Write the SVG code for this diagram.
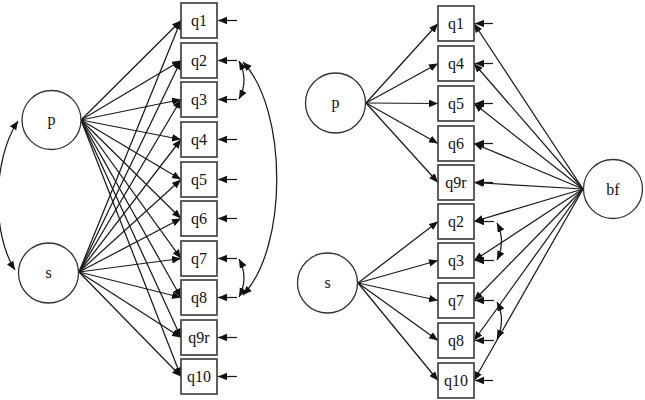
<svg xmlns="http://www.w3.org/2000/svg" width="645" height="400" viewBox="0 0 645 400">
  <defs>
    <style>
      .box { fill: #fff; stroke: #444; stroke-width: 1.7; }
      .lat { fill: #fff; stroke: #333; stroke-width: 1.3; }
      .lbl { font-family: "Liberation Serif", "Times New Roman", serif; font-size: 16px; fill: #111; text-anchor: middle; dominant-baseline: central; }
      .edge { fill: none; stroke: #1a1a1a; stroke-width: 1.25; marker-end: url(#ah); }
      .cov { fill: none; stroke: #1a1a1a; stroke-width: 1.25; marker-start: url(#ah); marker-end: url(#ah); }
    </style>
    <marker id="ah" markerUnits="userSpaceOnUse" markerWidth="10" markerHeight="8" refX="9" refY="3.75" orient="auto-start-reverse">
      <path d="M0,0 L9,3.75 L0,7.5 z" fill="#111"/>
    </marker>
  </defs>

  <!-- connectors -->
  <g id="connectors">
    <!-- left model: p loadings -->
    <path class="edge" d="M81,120 L181,20.5"/>
    <path class="edge" d="M81,120 L181,60.5"/>
    <path class="edge" d="M81,120 L181,99.5"/>
    <path class="edge" d="M81,120 L181,139.5"/>
    <path class="edge" d="M81,120 L181,179.5"/>
    <path class="edge" d="M81,120 L181,218.5"/>
    <path class="edge" d="M81,120 L181,258.5"/>
    <path class="edge" d="M81,120 L181,297.5"/>
    <path class="edge" d="M81,120 L181,337.5"/>
    <path class="edge" d="M81,120 L181,376.5"/>
    <!-- left model: s loadings -->
    <path class="edge" d="M79,272 L181,20.5"/>
    <path class="edge" d="M79,272 L181,60.5"/>
    <path class="edge" d="M79,272 L181,99.5"/>
    <path class="edge" d="M79,272 L181,139.5"/>
    <path class="edge" d="M79,272 L181,179.5"/>
    <path class="edge" d="M79,272 L181,218.5"/>
    <path class="edge" d="M79,272 L181,258.5"/>
    <path class="edge" d="M79,272 L181,297.5"/>
    <path class="edge" d="M79,272 L181,337.5"/>
    <path class="edge" d="M79,272 L181,376.5"/>
    <!-- left model: residuals -->
    <path class="edge" d="M237,20.5 L218,20.5"/>
    <path class="edge" d="M237,60.5 L218,60.5"/>
    <path class="edge" d="M237,99.5 L218,99.5"/>
    <path class="edge" d="M237,139.5 L218,139.5"/>
    <path class="edge" d="M237,179.5 L218,179.5"/>
    <path class="edge" d="M237,218.5 L218,218.5"/>
    <path class="edge" d="M237,258.5 L218,258.5"/>
    <path class="edge" d="M237,297.5 L218,297.5"/>
    <path class="edge" d="M237,337.5 L218,337.5"/>
    <path class="edge" d="M237,376.5 L218,376.5"/>
    <!-- left model: covariances -->
    <path class="cov" d="M18,121 C-8,160 -8,235 15,270"/>
    <path class="cov" d="M239,61 Q249,80 239,99"/>
    <path class="cov" d="M239,259 Q249,278 239,297"/>
    <path class="cov" d="M243,62 C288,110 288,248 243,295"/>

    <!-- right model: p loadings -->
    <path class="edge" d="M366,103 L438,23.5"/>
    <path class="edge" d="M366,103 L438,63.5"/>
    <path class="edge" d="M366,103 L438,103.5"/>
    <path class="edge" d="M366,103 L438,143.5"/>
    <path class="edge" d="M366,103 L438,182.5"/>
    <!-- right model: s loadings -->
    <path class="edge" d="M358,283 L438,221.5"/>
    <path class="edge" d="M358,283 L438,260.5"/>
    <path class="edge" d="M358,283 L438,300.5"/>
    <path class="edge" d="M358,283 L438,340.5"/>
    <path class="edge" d="M358,283 L438,380.5"/>
    <!-- right model: bf loadings -->
    <path class="edge" d="M583,189 L474,23.5"/>
    <path class="edge" d="M583,189 L474,63.5"/>
    <path class="edge" d="M583,189 L474,103.5"/>
    <path class="edge" d="M583,189 L474,143.5"/>
    <path class="edge" d="M583,189 L474,182.5"/>
    <path class="edge" d="M583,189 L474,221.5"/>
    <path class="edge" d="M583,189 L474,260.5"/>
    <path class="edge" d="M583,189 L474,300.5"/>
    <path class="edge" d="M583,189 L474,340.5"/>
    <path class="edge" d="M583,189 L474,380.5"/>
    <!-- right model: residuals -->
    <path class="edge" d="M493,23.5 L475,23.5"/>
    <path class="edge" d="M493,63.5 L475,63.5"/>
    <path class="edge" d="M493,103.5 L475,103.5"/>
    <path class="edge" d="M493,143.5 L475,143.5"/>
    <path class="edge" d="M493,182.5 L475,182.5"/>
    <path class="edge" d="M494,221.5 L475,221.5"/>
    <path class="edge" d="M494,260.5 L475,260.5"/>
    <path class="edge" d="M494,300.5 L475,300.5"/>
    <path class="edge" d="M494,340.5 L475,340.5"/>
    <path class="edge" d="M493,380.5 L475,380.5"/>
    <!-- right model: covariances -->
    <path class="cov" d="M497,223 Q506,241 497,260"/>
    <path class="cov" d="M497,302 Q506,320 497,339"/>
  </g>

  <!-- left model nodes -->
  <g id="L_p"><circle class="lat" cx="51.5" cy="120" r="29.5"/><text class="lbl" x="51.5" y="119">p</text></g>
  <g id="L_s"><circle class="lat" cx="48.5" cy="273" r="30"/><text class="lbl" x="48.5" y="272">s</text></g>
  <g id="L_q1"><rect class="box" x="181" y="3" width="36" height="35"/><text class="lbl" x="199" y="20.5">q1</text></g>
  <g id="L_q2"><rect class="box" x="181" y="43" width="36" height="35"/><text class="lbl" x="199" y="60.5">q2</text></g>
  <g id="L_q3"><rect class="box" x="181" y="82" width="36" height="35"/><text class="lbl" x="199" y="99.5">q3</text></g>
  <g id="L_q4"><rect class="box" x="181" y="122" width="36" height="35"/><text class="lbl" x="199" y="139.5">q4</text></g>
  <g id="L_q5"><rect class="box" x="181" y="162" width="36" height="35"/><text class="lbl" x="199" y="179.5">q5</text></g>
  <g id="L_q6"><rect class="box" x="181" y="201" width="36" height="35"/><text class="lbl" x="199" y="218.5">q6</text></g>
  <g id="L_q7"><rect class="box" x="181" y="241" width="36" height="35"/><text class="lbl" x="199" y="258.5">q7</text></g>
  <g id="L_q8"><rect class="box" x="181" y="280" width="36" height="35"/><text class="lbl" x="199" y="297.5">q8</text></g>
  <g id="L_q9r"><rect class="box" x="181" y="320" width="36" height="35"/><text class="lbl" x="199" y="337.5">q9r</text></g>
  <g id="L_q10"><rect class="box" x="181" y="359" width="36" height="35"/><text class="lbl" x="199" y="376.5">q10</text></g>

  <!-- right model nodes -->
  <g id="R_p"><circle class="lat" cx="335.5" cy="103" r="30"/><text class="lbl" x="335.5" y="102">p</text></g>
  <g id="R_s"><circle class="lat" cx="327.5" cy="283" r="30"/><text class="lbl" x="327.5" y="282">s</text></g>
  <g id="R_bf"><circle class="lat" cx="613" cy="189" r="29.5"/><text class="lbl" x="613" y="189">bf</text></g>
  <g id="R_q1"><rect class="box" x="438" y="6" width="36" height="35"/><text class="lbl" x="456" y="23.5">q1</text></g>
  <g id="R_q4"><rect class="box" x="438" y="46" width="36" height="35"/><text class="lbl" x="456" y="63.5">q4</text></g>
  <g id="R_q5"><rect class="box" x="438" y="86" width="36" height="35"/><text class="lbl" x="456" y="103.5">q5</text></g>
  <g id="R_q6"><rect class="box" x="438" y="126" width="36" height="35"/><text class="lbl" x="456" y="143.5">q6</text></g>
  <g id="R_q9r"><rect class="box" x="438" y="165" width="36" height="35"/><text class="lbl" x="456" y="182.5">q9r</text></g>
  <g id="R_q2"><rect class="box" x="438" y="204" width="36" height="35"/><text class="lbl" x="456" y="221.5">q2</text></g>
  <g id="R_q3"><rect class="box" x="438" y="243" width="36" height="35"/><text class="lbl" x="456" y="260.5">q3</text></g>
  <g id="R_q7"><rect class="box" x="438" y="283" width="36" height="35"/><text class="lbl" x="456" y="300.5">q7</text></g>
  <g id="R_q8"><rect class="box" x="438" y="323" width="36" height="35"/><text class="lbl" x="456" y="340.5">q8</text></g>
  <g id="R_q10"><rect class="box" x="438" y="363" width="36" height="35"/><text class="lbl" x="456" y="380.5">q10</text></g>
</svg>
